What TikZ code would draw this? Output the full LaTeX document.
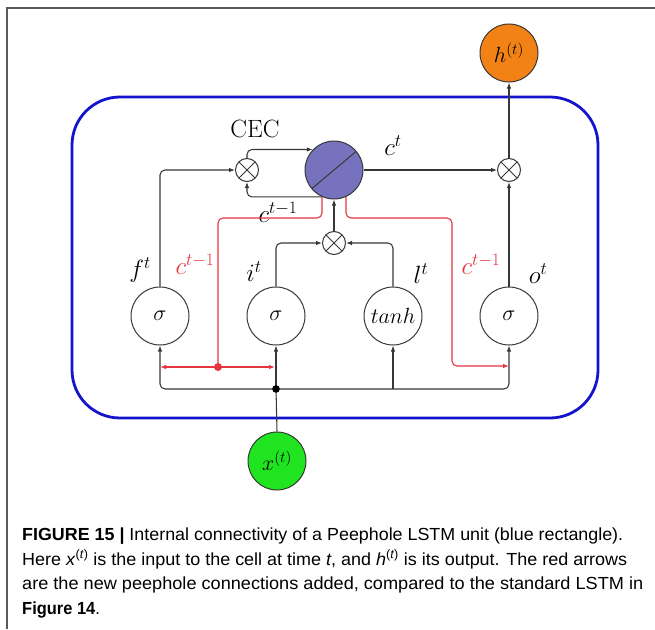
\RequirePackage{fix-cm}
\documentclass[tikz,border=0pt]{standalone}
\usepackage{fontspec}
\usepackage{graphicx}
\newfontfamily\capfont{Liberation Sans}
\usetikzlibrary{arrows.meta,shapes.geometric}
\definecolor{cellc}{RGB}{118,114,190}
\definecolor{hcol}{RGB}{242,130,22}
\definecolor{xcol}{RGB}{32,228,32}
\definecolor{unitblue}{RGB}{20,20,205}
\definecolor{peep}{RGB}{228,52,62}
\definecolor{wire}{RGB}{55,55,55}
\definecolor{framec}{RGB}{90,90,90}
\tikzset{
  big/.style={font=\fontsize{22}{26}\selectfont},
  gate/.style={circle,draw=wire,line width=1pt,minimum size=58pt,inner sep=0pt,big},
  multnode/.style={circle,draw=wire,line width=1pt,minimum size=23pt,inner sep=0pt,
    path picture={\draw[wire,line width=0.9pt]
      (path picture bounding box.center) ++(45:11.5pt) -- ++(225:23pt)
      (path picture bounding box.center) ++(135:11.5pt) -- ++(315:23pt);}},
  wirearrow/.style={draw=wire,line width=1.05pt,rounded corners=5pt,-{Latex[length=6pt,width=4.5pt]}},
  wireline/.style={draw=wire,line width=1.05pt,rounded corners=5pt},
  peeparrow/.style={draw=peep,line width=1.1pt,rounded corners=5pt,-{Latex[length=6pt,width=4.5pt]}},
  peepline/.style={draw=peep,line width=1.1pt,rounded corners=5pt},
  lbl/.style={font=\fontsize{25}{30}\selectfont},
  caplinestyle/.style={anchor=base west,inner sep=0pt,font=\capfont\fontsize{17.5}{21}\selectfont}
}
\begin{document}
\begin{tikzpicture}[x=1pt,y=-1pt]
\useasboundingbox (0,0) rectangle (655,629);
% outer frame
\draw[framec,line width=1.3pt] (7,629) -- (7,8) -- (655,8);
% unit rectangle
\draw[unitblue,line width=2.8pt,rounded corners=48pt] (72,97) rectangle (598,418);

% nodes
\node[circle,draw=wire,line width=1pt,fill=hcol,minimum size=58pt,inner sep=0pt,big] (h) at (509,53) {$h^{(t)}$};
\node[circle,draw=wire,line width=1pt,fill=xcol,minimum size=58pt,inner sep=0pt,big] (x) at (277,461) {$x^{(t)}$};
\node[circle,draw=wire,line width=1pt,fill=cellc,minimum size=58pt,inner sep=0pt,
  path picture={\draw[wire,line width=1pt] (path picture bounding box.center) ++(220:29pt) -- ++(40:58pt);}] (cell) at (334,170) {};
\node[multnode] (fm) at (247,170) {};
\node[multnode] (om) at (509,170) {};
\node[multnode] (im) at (334,243) {};
\node[gate] (f) at (160,316) {$\sigma$};
\node[gate] (i) at (276,316) {$\sigma$};
\node[gate] (l) at (393,316) {$tanh$};
\node[gate] (o) at (509,316) {$\sigma$};

% labels
\node[lbl] (cec) at (255,129) {CEC};
\node[lbl] (ctl) at (393,146) {$c^{t}$};
\node[lbl] (cml) at (278,212) {$c^{t-1}$};
\node[lbl] (ftl) at (140,270) {$f^{t}$};
\node[lbl] (itl) at (254,272) {$i^{t}$};
\node[lbl] (ltl) at (421,274) {$l^{t}$};
\node[lbl] (otl) at (538,274) {$o^{t}$};
\node[lbl,text=peep] (rcl) at (195,264) {$c^{t-1}$};
\node[lbl,text=peep] (rcr) at (481,264) {$c^{t-1}$};

% coordinates
\coordinate (bus) at (276,389);
\coordinate (rdot) at (218,367);
\coordinate (rtop) at (0,218);
\coordinate (rturn) at (452,0);

% CEC loop
\draw[wirearrow] (fm.north) |- (cell.136);
\draw[wirearrow] (cell.246) -| (fm.south);
% cell to output multiplier and to h
\draw[wirearrow] (cell.east) -- (om.west);
\draw[wirearrow] (om.north) -- (h.south);
% forget gate
\draw[wirearrow] (f.north) |- (fm.west);
% input part
\draw[wirearrow] (i.north) |- (im.west);
\draw[wirearrow] (l.north) |- (im.east);
\draw[wirearrow] (im.north) -- (cell.south);
% output gate
\draw[wirearrow] (o.north) -- (om.south);
% input bus
\draw[wireline] (x.north) -- (bus);
\draw[wirearrow] (bus) -- (i.south);
\draw[wirearrow] (bus) -| (f.south);
\draw[wirearrow] (bus) -| (o.south);
\draw[wirearrow] (l.south |- bus) -- (l.south);
\fill[black] (bus) circle (3.8pt);

% peephole connections
\draw[peepline] (cell.246) -- (cell.246 |- rtop) -- (rdot |- rtop) -- (rdot);
\draw[peeparrow] (rdot) -- (f.south |- rdot);
\draw[peeparrow] (rdot) -- ([xshift=-1pt]i.south |- rdot);
\draw[peeparrow] (cell.294) -- (cell.294 |- rtop) -- (rturn |- rtop) -- (rturn |- 0,366) -- (o.south |- 0,366);
\fill[peep] (rdot) circle (4pt);

% caption
\node[caplinestyle] (cap1) at (22,540) {\resizebox{601pt}{\height}{\textbf{FIGURE 15 |} Internal connectivity of a Peephole LSTM unit (blue rectangle).}};
\node[caplinestyle] (cap2) at (22,565) {\resizebox{605pt}{\height}{Here \textit{x}\textsuperscript{(\textit{t})} is the input to the cell at time \textit{t}, and \textit{h}\textsuperscript{(\textit{t})} is its output. The red arrows}};
\node[caplinestyle] (cap3) at (22,589) {\resizebox{621pt}{\height}{are the new peephole connections added, compared to the standard LSTM in}};
\node[caplinestyle] (cap4) at (22,614) {\scalebox{0.94}[1]{\textbf{Figure 14}.}};
\end{tikzpicture}
\end{document}
